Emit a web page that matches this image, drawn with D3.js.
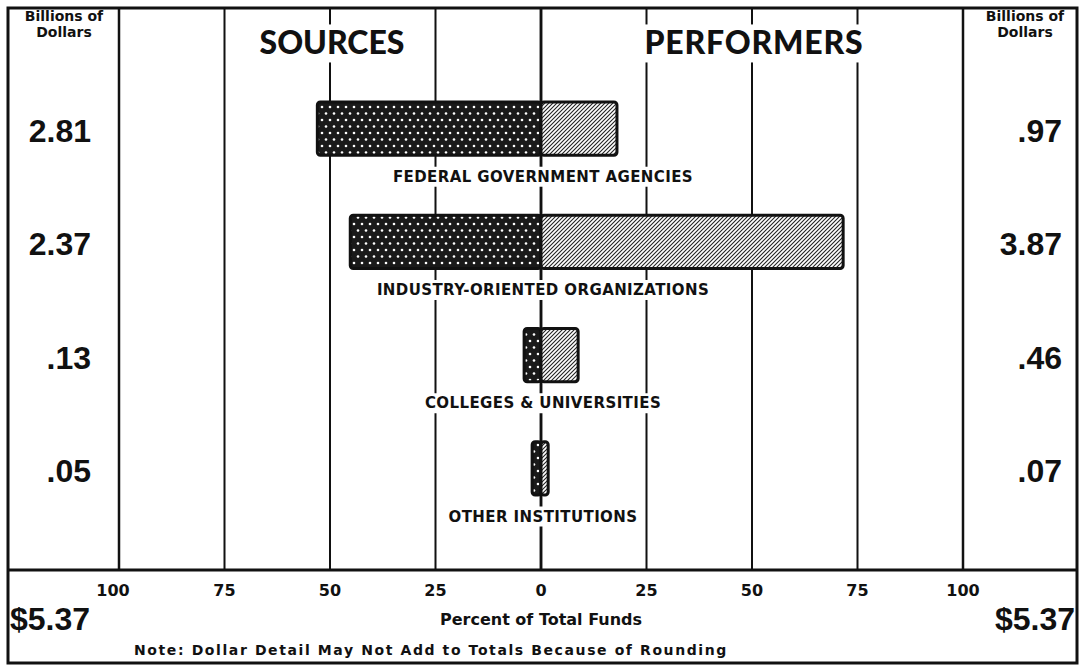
<!DOCTYPE html>
<html>
<head>
<meta charset="utf-8">
<script src="https://cdn.jsdelivr.net/npm/d3@7"></script>
<style>
  body { margin: 0; background: #fff; }
  svg text { font-family: "Liberation Sans", Arial, sans-serif; font-weight: bold; fill: #111; }
  svg text.heavy { font-family: "DejaVu Sans", sans-serif; }
</style>
</head>
<body>
<svg id="chart" width="1085" height="668"></svg>
<script>
// Data
const categories = ['FEDERAL GOVERNMENT AGENCIES', 'INDUSTRY-ORIENTED ORGANIZATIONS',
  'COLLEGES & UNIVERSITIES', 'OTHER INSTITUTIONS'];
const sourcePercent = [53.0, 45.2, 4.0, 2.1];
const performerPercent = [18.0, 71.6, 8.8, 1.7];
const sourceDollars = ['2.81', '2.37', '.13', '.05'];
const performerDollars = ['.97', '3.87', '.46', '.07'];
const tickValues = [0, 25, 50, 75, 100];
const totalLabel = '$5.37';

const svg = d3.select('#chart');
const ink = '#111';

// Patterns: dotted (sources) and hatched (performers)
let defs = svg.append('defs');
let dots = defs.append('pattern')
  .attr('id', 'dots')
  .attr('patternUnits', 'userSpaceOnUse')
  .attr('width', 8).attr('height', 13);
dots.append('rect').attr('width', 8).attr('height', 13).attr('fill', '#1a1a1a');
dots.append('circle').attr('cx', 2).attr('cy', 3).attr('r', 1.3).attr('fill', '#fff');
dots.append('circle').attr('cx', 6).attr('cy', 9.5).attr('r', 1.3).attr('fill', '#fff');

let hatch = defs.append('pattern')
  .attr('id', 'hatch')
  .attr('patternUnits', 'userSpaceOnUse')
  .attr('width', 4).attr('height', 4);
hatch.append('rect').attr('width', 4).attr('height', 4).attr('fill', '#fff');
hatch.append('path')
  .attr('d', 'M-1,1 l2,-2 M0,4 l4,-4 M3,5 l2,-2')
  .attr('stroke', '#222').attr('stroke-width', 1.1);

// Scales
const xLeft = d3.scaleLinear().domain([0, 100]).range([541, 119]);
const xRight = d3.scaleLinear().domain([0, 100]).range([541, 963]);
const y = d3.scaleBand().domain(categories).range([102, 495]).paddingInner(0.53).paddingOuter(0);

const frameTop = 8, plotBottom = 570, frameBottom = 663, frameLeft = 8, frameRight = 1077;

// Gridlines
let grid = svg.append('g');
tickValues.forEach(v => {
  [xLeft, xRight].forEach(x => {
    grid.append('line')
      .attr('x1', x(v)).attr('x2', x(v))
      .attr('y1', frameTop).attr('y2', plotBottom)
      .attr('stroke', ink)
      .attr('stroke-width', v === 100 || v === 0 ? 2.5 : 2);
  });
});

// Frame
svg.append('rect')
  .attr('x', frameLeft).attr('y', frameTop)
  .attr('width', frameRight - frameLeft).attr('height', frameBottom - frameTop)
  .attr('fill', 'none').attr('stroke', ink).attr('stroke-width', 3);
svg.append('line')
  .attr('x1', frameLeft).attr('x2', frameRight)
  .attr('y1', plotBottom).attr('y2', plotBottom)
  .attr('stroke', ink).attr('stroke-width', 3);

// Text with white backing so gridlines break around it
function labelWithGap(g, x, yPos, text, size, pad, cls) {
  let t = g.append('text')
    .attr('class', cls || null)
    .attr('x', x).attr('y', yPos)
    .attr('text-anchor', 'middle')
    .attr('dominant-baseline', 'middle')
    .style('font-size', size + 'px')
    .text(text);
  let box = t.node().getBBox();
  g.insert('rect', 'text')
    .attr('x', box.x - pad).attr('y', box.y - 1)
    .attr('width', box.width + pad * 2).attr('height', box.height + 2)
    .attr('fill', '#fff');
  return t;
}

// Titles
let titles = svg.append('g');
labelWithGap(titles, xLeft(50) + 2, 46, 'SOURCES', 32, 4)
  .style('font-family', 'Lato, sans-serif').style('font-weight', 900);
labelWithGap(titles, xRight(50) + 2, 46, 'PERFORMERS', 32, 4)
  .style('font-family', 'Lato, sans-serif').style('font-weight', 900)
  .style('letter-spacing', '0.8px');

// Bars
let bars = svg.append('g');
categories.forEach((c, i) => {
  bars.append('rect')
    .attr('x', xLeft(sourcePercent[i]))
    .attr('y', y(c))
    .attr('width', xLeft(0) - xLeft(sourcePercent[i]))
    .attr('height', y.bandwidth())
    .attr('rx', 3)
    .attr('fill', 'url(#dots)')
    .attr('stroke', ink).attr('stroke-width', 3);
  bars.append('rect')
    .attr('x', xRight(0))
    .attr('y', y(c))
    .attr('width', xRight(performerPercent[i]) - xRight(0))
    .attr('height', y.bandwidth())
    .attr('rx', 3)
    .attr('fill', 'url(#hatch)')
    .attr('stroke', ink).attr('stroke-width', 3);
});

// Category labels
let catLabels = svg.append('g');
categories.forEach(c => {
  labelWithGap(catLabels, xLeft(0) + 2, y(c) + y.bandwidth() + 22, c, 15, 3, 'heavy')
    .style('letter-spacing', '0.4px');
});

// Dollar columns
let cols = svg.append('g');
[64, 1025].forEach(cx => {
  cols.append('text').attr('class', 'heavy').attr('x', cx).attr('y', 21).attr('text-anchor', 'middle')
    .style('font-size', '14px').text('Billions of');
  cols.append('text').attr('class', 'heavy').attr('x', cx).attr('y', 37).attr('text-anchor', 'middle')
    .style('font-size', '14px').text('Dollars');
});
categories.forEach((c, i) => {
  let cy = y(c) + y.bandwidth() / 2 + 5;
  cols.append('text').attr('x', 91).attr('y', cy)
    .attr('text-anchor', 'end').attr('dominant-baseline', 'middle')
    .style('font-size', '32px').text(sourceDollars[i]);
  cols.append('text').attr('x', 1062).attr('y', cy)
    .attr('text-anchor', 'end').attr('dominant-baseline', 'middle')
    .style('font-size', '32px').text(performerDollars[i]);
});

// Axis labels along the bottom
let axis = svg.append('g');
tickValues.forEach(v => {
  axis.append('text').attr('class', 'heavy').attr('x', xLeft(v) - (v === 100 ? 6 : 0)).attr('y', 591)
    .attr('text-anchor', 'middle').attr('dominant-baseline', 'middle')
    .style('font-size', '16px').text(v);
  if (v > 0) {
    axis.append('text').attr('class', 'heavy').attr('x', xRight(v)).attr('y', 591)
      .attr('text-anchor', 'middle').attr('dominant-baseline', 'middle')
      .style('font-size', '16px').text(v);
  }
});
axis.append('text').attr('class', 'heavy').attr('x', xLeft(0)).attr('y', 620)
  .attr('text-anchor', 'middle').attr('dominant-baseline', 'middle')
  .style('font-size', '16px').text('Percent of Total Funds');
axis.append('text').attr('class', 'heavy').attr('x', 431).attr('y', 651)
  .attr('text-anchor', 'middle').attr('dominant-baseline', 'middle')
  .style('font-size', '14px').style('letter-spacing', '1.6px')
  .text('Note: Dollar Detail May Not Add to Totals Because of Rounding');

// Totals
axis.append('text').attr('x', 10).attr('y', 622)
  .attr('dominant-baseline', 'middle')
  .style('font-size', '32px').text(totalLabel);
axis.append('text').attr('x', 1075).attr('y', 622)
  .attr('text-anchor', 'end').attr('dominant-baseline', 'middle')
  .style('font-size', '32px').text(totalLabel);
</script>
</body>
</html>
